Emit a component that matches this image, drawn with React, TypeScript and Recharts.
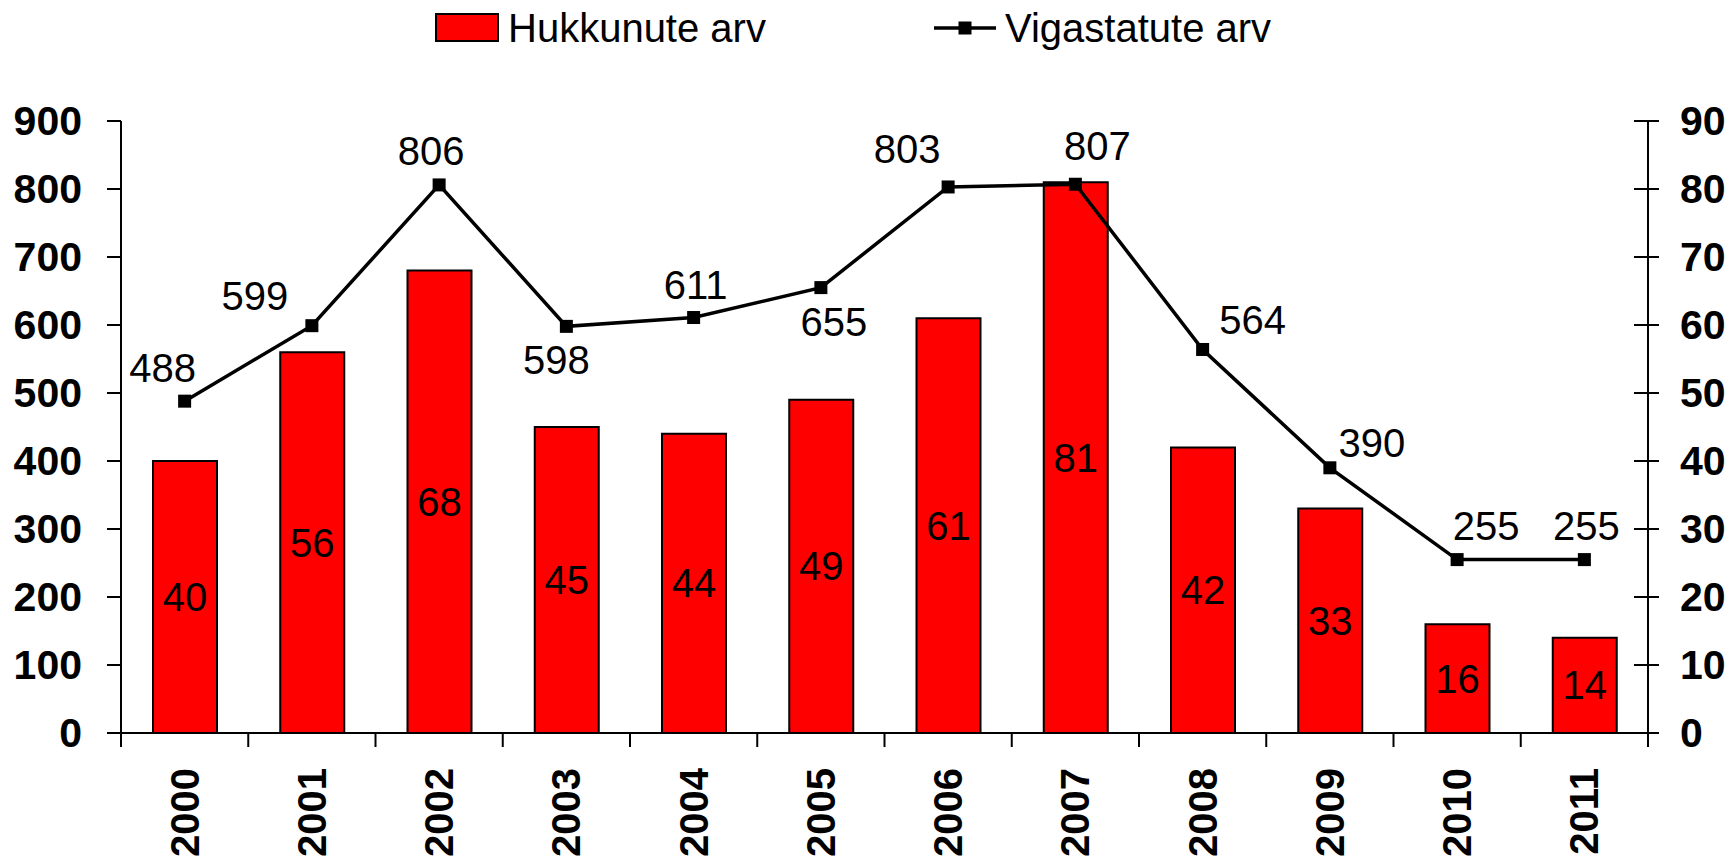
import React from "react";
import { ComposedChart, Bar, Line, XAxis, YAxis, LabelList } from "recharts";

const years = ["2000", "2001", "2002", "2003", "2004", "2005", "2006", "2007", "2008", "2009", "2010", "2011"];
const killed = [40, 56, 68, 45, 44, 49, 61, 81, 42, 33, 16, 14];
const injured = [488, 599, 806, 598, 611, 655, 803, 807, 564, 390, 255, 255];
const leftTicks = [0, 100, 200, 300, 400, 500, 600, 700, 800, 900];
const rightTicks = [0, 10, 20, 30, 40, 50, 60, 70, 80, 90];
const killedName = "Hukkunute arv";
const injuredName = "Vigastatute arv";

// label placement offsets for line values (style, not data)
const labelDx = [-22, -57, -8, -10, 2, 13, -41, 22, 50, 42, 29, 2];
const labelDy = [-33, -30, -34, 34, -33, 34, -38, -38, -29, -25, -34, -34];

const W = 1729;
const H = 863;
const PLOT_LEFT = 121;
const PLOT_RIGHT = 1648;
const PLOT_TOP = 121;
const PLOT_BOTTOM = 733;
const BAND = (PLOT_RIGHT - PLOT_LEFT) / years.length;
const FONT = "'Liberation Sans', Arial, sans-serif";

const data = years.map((y, i) => ({ year: y, killed: killed[i], injured: injured[i] }));

const XTick = (props: any) => {
  const { x, y, payload, index } = props;
  const bx = x - BAND / 2;
  return (
    <g>
      <line x1={bx} y1={y} x2={bx} y2={y + 14} stroke="#000" strokeWidth={2} />
      {index === years.length - 1 && (
        <line x1={x + BAND / 2} y1={y} x2={x + BAND / 2} y2={y + 14} stroke="#000" strokeWidth={2} />
      )}
      <text
        x={x}
        y={y + 35}
        transform={`rotate(-90, ${x}, ${y + 35})`}
        textAnchor="end"
        dominantBaseline="central"
        fontFamily={FONT}
        fontWeight="bold"
        fontSize={40}
        fill="#000"
      >
        {payload.value}
      </text>
    </g>
  );
};

const RightTick = (props: any) => {
  const { x, y, payload } = props;
  return (
    <g>
      <line x1={x - 14} y1={y} x2={x + 11} y2={y} stroke="#000" strokeWidth={2} />
      <text
        x={x + 32}
        y={y}
        textAnchor="start"
        dominantBaseline="central"
        fontFamily={FONT}
        fontWeight="bold"
        fontSize={41}
        fill="#000"
      >
        {payload.value}
      </text>
    </g>
  );
};

const LeftTick = (props: any) => {
  const { x, y, payload } = props;
  return (
    <text
      x={x}
      y={y}
      textAnchor="end"
      dominantBaseline="central"
      fontFamily={FONT}
      fontWeight="bold"
      fontSize={41}
      fill="#000"
    >
      {payload.value}
    </text>
  );
};

const LineLabel = (props: any) => {
  const { x, y, value, index } = props;
  return (
    <text
      x={x + labelDx[index]}
      y={y + labelDy[index]}
      textAnchor="middle"
      dominantBaseline="central"
      fontFamily={FONT}
      fontSize={40}
      fill="#000"
    >
      {value}
    </text>
  );
};

const BarLabel = (props: any) => {
  const { x, y, width, height, value } = props;
  return (
    <text
      x={x + width / 2}
      y={y + height / 2}
      textAnchor="middle"
      dominantBaseline="central"
      fontFamily={FONT}
      fontSize={40}
      fill="#000"
    >
      {value}
    </text>
  );
};

const SquareDot = (props: any) => {
  const { cx, cy, index } = props;
  return <rect key={`d${index}`} x={cx - 6.5} y={cy - 6.5} width={13} height={13} fill="#000" />;
};

const LegendOverlay = () => (
  <svg width={W} height={70} style={{ position: "absolute", left: 0, top: 0 }}>
    <rect x={436} y={14} width={62} height={27} fill="#FF0000" stroke="#000" strokeWidth={2} />
    <text x={508} y={28} dominantBaseline="central" fontFamily={FONT} fontSize={40} fill="#000">
      {killedName}
    </text>
    <line x1={934} y1={28} x2={996} y2={28} stroke="#000" strokeWidth={3.5} />
    <rect x={958.5} y={21.5} width={13} height={13} fill="#000" />
    <text x={1005} y={28} dominantBaseline="central" fontFamily={FONT} fontSize={40} fill="#000">
      {injuredName}
    </text>
  </svg>
);

export default function App() {
  return (
    <div style={{ position: "absolute", left: 0, top: 0, width: W, height: H, background: "#fff" }}>
      <ComposedChart
        width={W}
        height={H}
        data={data}
        margin={{ top: PLOT_TOP, right: 0, bottom: 0, left: 0 }}
      >
        <XAxis
          dataKey="year"
          height={H - PLOT_BOTTOM}
          axisLine={{ stroke: "#000", strokeWidth: 2 }}
          tickLine={false}
          tickSize={0}
          tickMargin={0}
          interval={0}
          tick={<XTick />}
        />
        <YAxis
          yAxisId="left"
          orientation="left"
          width={PLOT_LEFT}
          domain={[0, 900]}
          ticks={leftTicks}
          interval={0}
          axisLine={{ stroke: "#000", strokeWidth: 2 }}
          tickLine={{ stroke: "#000", strokeWidth: 2 }}
          tickSize={14}
          tickMargin={25}
          tick={<LeftTick />}
        />
        <YAxis
          yAxisId="right"
          orientation="right"
          width={W - PLOT_RIGHT}
          domain={[0, 90]}
          ticks={rightTicks}
          interval={0}
          axisLine={{ stroke: "#000", strokeWidth: 2 }}
          tickLine={false}
          tickSize={0}
          tickMargin={0}
          tick={<RightTick />}
        />
        <Bar
          yAxisId="right"
          dataKey="killed"
          name={killedName}
          fill="#FF0000"
          stroke="#000"
          strokeWidth={2}
          barSize={64}
          isAnimationActive={false}
        >
          <LabelList dataKey="killed" content={<BarLabel />} />
        </Bar>
        <Line
          yAxisId="left"
          dataKey="injured"
          name={injuredName}
          stroke="#000"
          strokeWidth={3.5}
          dot={<SquareDot />}
          activeDot={false}
          isAnimationActive={false}
        >
          <LabelList dataKey="injured" content={<LineLabel />} />
        </Line>
      </ComposedChart>
      <LegendOverlay />
    </div>
  );
}
